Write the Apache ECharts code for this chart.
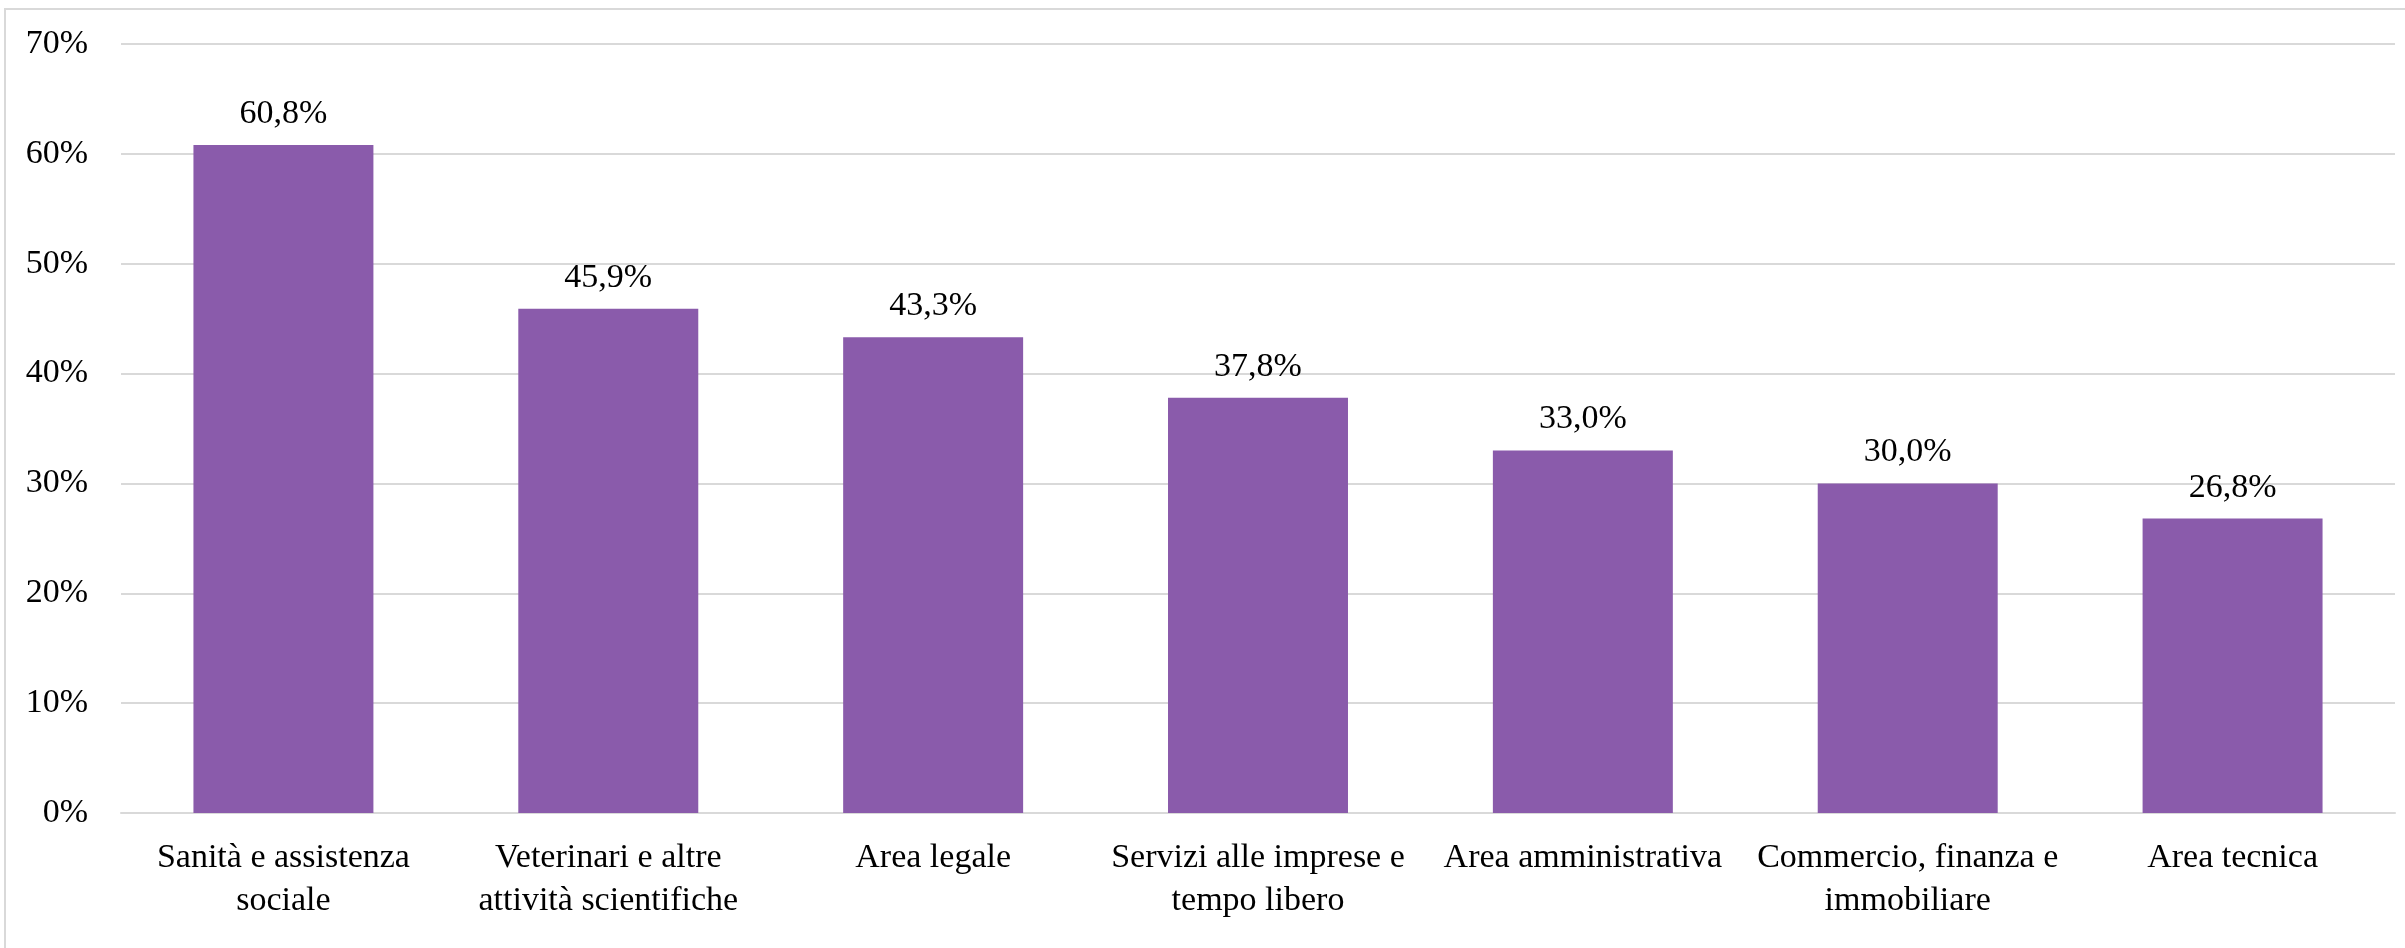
<!DOCTYPE html>
<html>
<head>
<meta charset="utf-8">
<script src="https://cdn.jsdelivr.net/npm/echarts@6/dist/echarts.min.js"></script>
<style>
  html, body { margin: 0; padding: 0; background: #fff; overflow: hidden; }
  #frame { position: absolute; left: 4px; top: 8px; width: 2420px; height: 960px; border: 2px solid #d9d9d9; box-sizing: border-box; }
  #chart { position: absolute; left: 0; top: 0; width: 2405px; height: 948px; }
</style>
</head>
<body>
<div id="frame"></div>
<div id="chart"></div>
<script>
const categories = [
  "Sanità e assistenza\nsociale",
  "Veterinari e altre\nattività scientifiche",
  "Area legale",
  "Servizi alle imprese e\ntempo libero",
  "Area amministrativa",
  "Commercio, finanza e\nimmobiliare",
  "Area tecnica"
];
const values = [60.8, 45.9, 43.3, 37.8, 33.0, 30.0, 26.8];
const yTicks = { min: 0, max: 70, interval: 10 };

const FONT = "'Liberation Serif', 'DejaVu Serif', serif";
const chart = echarts.init(document.getElementById('chart'), null, { renderer: 'canvas' });
chart.setOption({
  backgroundColor: 'transparent',
  animation: false,
  grid: { left: 121, right: 10, top: 44, bottom: 135, containLabel: false },
  xAxis: {
    type: 'category',
    data: categories,
    axisLine: { show: true, lineStyle: { color: '#d9d9d9', width: 2 } },
    axisTick: { show: false },
    axisLabel: {
      interval: 0,
      color: '#000',
      fontFamily: FONT,
      fontSize: 34,
      lineHeight: 43,
      margin: 24
    }
  },
  yAxis: {
    type: 'value',
    min: yTicks.min,
    max: yTicks.max,
    interval: yTicks.interval,
    axisLine: { show: false },
    axisTick: { show: false },
    splitLine: { lineStyle: { color: '#d9d9d9', width: 2 } },
    axisLabel: {
      color: '#000',
      fontFamily: FONT,
      fontSize: 34,
      margin: 33,
      formatter: v => v + '%'
    }
  },
  series: [{
    type: 'bar',
    data: values,
    barWidth: '55.4%',
    itemStyle: { color: '#8a5bab' },
    label: {
      show: true,
      position: 'top',
      distance: 14,
      color: '#000',
      fontFamily: FONT,
      fontSize: 34,
      formatter: p => p.value.toFixed(1).replace('.', ',') + '%'
    }
  }]
});
</script>
</body>
</html>
